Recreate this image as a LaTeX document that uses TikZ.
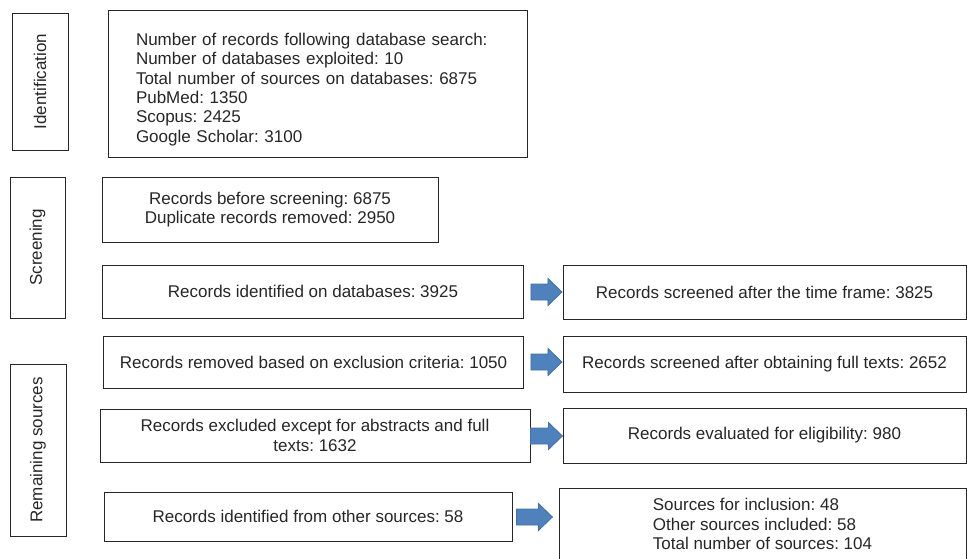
\documentclass[tikz,border=0pt]{standalone}
\usepackage{fontspec}
\setmainfont{Liberation Sans}
\usetikzlibrary{calc}
\definecolor{arrfill}{HTML}{4F81BD}
\definecolor{arrline}{HTML}{41719C}
\definecolor{ink}{HTML}{262626}
\newcommand\blockarr[2]{% #1 tail point, #2 total length
  \filldraw[arrowsty] (#1) ++(0,-8) -- ++(#2-14,0) -- ++(0,-5.5) -- ++(14,13.5)
    -- ++(-14,13.5) -- ++(0,-5.5) -- ++(-#2+14,0) -- cycle;}
\begin{document}
\frenchspacing
\begin{tikzpicture}[x=1pt,y=-1pt,
  box/.style={draw=ink, line width=0.9pt, inner sep=0pt, align=center,
    font=\fontsize{17}{19.4}\selectfont\frenchspacing, text=ink},
  lbox/.style={box, align=left},
  vlabel/.style={font=\fontsize{17}{19.4}\selectfont, text=ink, rotate=90},
  arrowsty/.style={fill=arrfill, draw=arrline, line width=0.8pt, line join=miter}]
\useasboundingbox (0,0) rectangle (967,559);

% stage label boxes
\node[box, minimum width=56pt, minimum height=137pt] (idlab) at (40,81.5) {};
\node[vlabel] at (idlab.center) {Identification};
\node[box, minimum width=55pt, minimum height=141pt] (sclab) at (37.5,247.5) {};
\node[vlabel] at (sclab.center) {Screening};
\node[box, minimum width=56pt, minimum height=172pt] (remlab) at (38,450) {};
\node[vlabel] at (remlab.center) {Remaining sources};

% left column
\node[lbox, text width=363pt, inner xsep=28pt, minimum height=147pt] (ident) at (317.5,83.5)
  {\parbox{363pt}{\vspace*{12pt}\raggedright Number of records following database search:\\
   Number of databases exploited: 10\\
   Total number of sources on databases: 6875\\
   PubMed: 1350\\
   Scopus: 2425\\
   Google Scholar: 3100}};
\node[box, minimum width=336pt, minimum height=65pt] (before) at (270,209.5)
  {Records before screening: 6875\\Duplicate records removed: 2950};
\node[box, minimum width=421pt, minimum height=53pt] (idb) at (313,291.5)
  {Records identified on databases: 3925};
\node[box, minimum width=420pt, minimum height=52pt] (removed) at (313.5,362)
  {Records removed based on exclusion criteria: 1050};
\node[box, minimum width=430pt, minimum height=53pt] (excl) at (315,435.5)
  {Records excluded except for abstracts and full\\texts: 1632};
\node[box, minimum width=408pt, minimum height=49pt] (other) at (308,516.5)
  {Records identified from other sources: 58};

% right column
\node[box, minimum width=403pt, minimum height=54pt] (r1) at (764.5,292)
  {Records screened after the time frame: 3825};
\node[box, minimum width=403pt, minimum height=56pt] (r2) at (764.5,364)
  {Records screened after obtaining full texts: 2652};
\node[box, minimum width=403pt, minimum height=55pt] (r3) at (764.5,435.5)
  {Records evaluated for eligibility: 980};
\node[lbox, minimum width=407pt, minimum height=72pt] (r4) at (762.5,524)
  {Sources for inclusion: 48\\Other sources included: 58\\Total number of sources: 104};

% block arrows
\coordinate (t1) at ($(idb.east)+(7,0.5)$);
\coordinate (t2) at ($(removed.east)+(7,0)$);
\coordinate (t3) at ($(excl.east)+(0,0.5)$);
\coordinate (t4) at ($(other.east)+(4,0.5)$);
\blockarr{t1}{31}
\blockarr{t2}{31}
\blockarr{t3}{32}
\blockarr{t4}{36}
\end{tikzpicture}
\end{document}
